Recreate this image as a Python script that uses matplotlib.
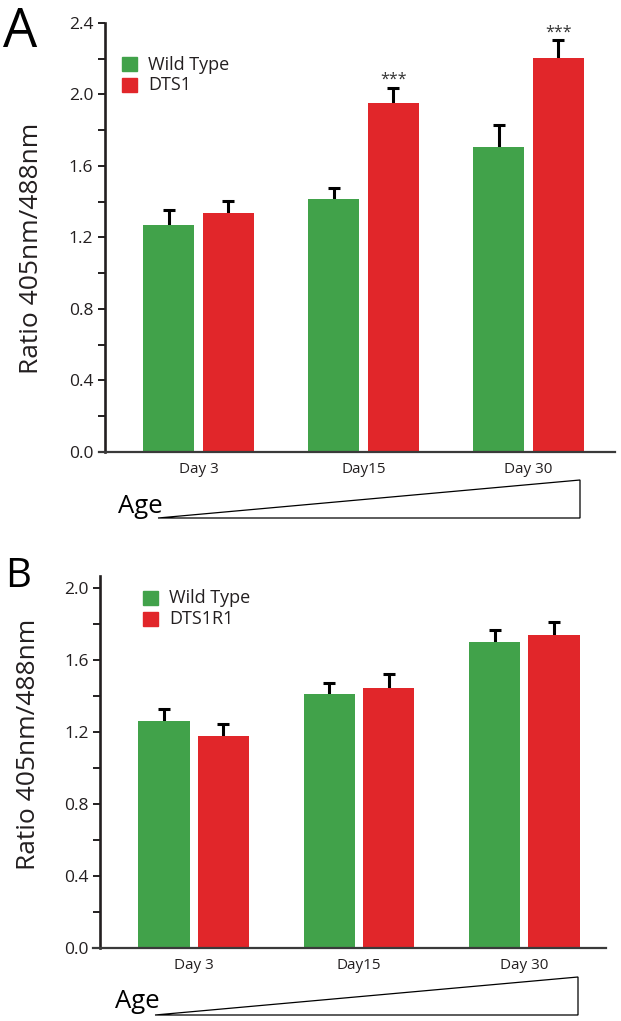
import matplotlib
matplotlib.use("Agg")
import matplotlib.pyplot as plt
import numpy as np
from matplotlib.patches import Polygon, Rectangle
from matplotlib.ticker import MultipleLocator

plt.rcParams["font.family"] = ["Open Sans", "DejaVu Sans"]

days = ["Day 3", "Day15", "Day 30"]

# panel A
wt_a = [1.27, 1.415, 1.705]
wt_a_err = [0.084, 0.062, 0.122]
dts1 = [1.338, 1.955, 2.205]
dts1_err = [0.064, 0.084, 0.098]
stars_a = ["", "***", "***"]

# panel B
wt_b = [1.26, 1.41, 1.70]
wt_b_err = [0.067, 0.061, 0.067]
dts1r1 = [1.18, 1.444, 1.739]
dts1r1_err = [0.067, 0.078, 0.072]

GREEN = "#41a24a"
RED = "#e1262a"
INK = "#231f20"

W, H = 621, 1021
fig = plt.figure(figsize=(W / 100, H / 100), dpi=100)


def fx(x):
    return x / W


def fy(y):
    return 1 - y / H


def add_axes_px(x0, y0, x1, y1):
    return fig.add_axes([fx(x0), fy(y1), (x1 - x0) / W, (y1 - y0) / H])


def draw_panel(ax, wt, wt_err, mut, mut_err, xlim, spine_x, ymax, top_tick, stars=None):
    x = np.arange(len(days))
    width, off = 0.31, 0.18
    ekw = dict(fmt="none", ecolor="black", elinewidth=2.2, capsize=4.3, capthick=2.2, zorder=1)
    ax.errorbar(x - off, wt, yerr=wt_err, **ekw)
    ax.errorbar(x + off, mut, yerr=mut_err, **ekw)
    ax.bar(x - off, wt, width, color=GREEN, zorder=2)
    ax.bar(x + off, mut, width, color=RED, zorder=2)

    if stars:
        for xi, v, e, s in zip(x, mut, mut_err, stars):
            if s:
                ax.annotate(s, (xi + off, v + e), xytext=(0, 0), textcoords="offset points",
                            ha="center", va="bottom", fontsize=11.5, color="#333333")

    ax.set_xlim(*xlim)
    ax.set_ylim(0, ymax)
    ax.set_yticks(np.arange(0, top_tick + 0.01, 0.4))
    ax.set_yticklabels([f"{v:.1f}" for v in np.arange(0, top_tick + 0.01, 0.4)])
    ax.yaxis.set_minor_locator(MultipleLocator(0.2))
    ax.set_xticks(x, days)

    for s in ("top", "right"):
        ax.spines[s].set_visible(False)
    ax.spines["left"].set_position(("data", spine_x))
    ax.spines["left"].set_linewidth(1.9)
    ax.spines["left"].set_color(INK)
    ax.spines["bottom"].set_linewidth(1.6)
    ax.spines["bottom"].set_color("#3a3a3a")

    ax.tick_params(axis="y", which="both", direction="out", length=5, width=1.4,
                   color=INK, labelsize=12.5, labelcolor=INK, pad=3.5)
    ax.tick_params(axis="x", length=0, labelsize=11, labelcolor=INK, pad=7)
    ax.patch.set_alpha(0)


def legend_px(x, y_first, y_second, names):
    for yc, col, name in zip((y_first, y_second), (GREEN, RED), names):
        fig.add_artist(Rectangle((fx(x), fy(yc + 7)), 15 / W, 14 / H,
                                 transform=fig.transFigure, color=col))
        fig.text(fx(x + 26), fy(yc), name, fontsize=13, color=INK, ha="left", va="center")


def age_px(text_right, baseline, x0, x1, y_top, y_bot):
    fig.text(fx(text_right), fy(baseline), "Age", fontsize=18.5, color="black",
             ha="right", va="baseline")
    tri = Polygon([[fx(x0), fy(y_bot)], [fx(x1), fy(y_top)], [fx(x1), fy(y_bot)]],
                  closed=True, fill=False, edgecolor="black", linewidth=0.9,
                  transform=fig.transFigure)
    fig.add_artist(tri)


# ---- panel A
axA = add_axes_px(99, 23, 615, 452)
draw_panel(axA, wt_a, wt_a_err, dts1, dts1_err, xlim=(-0.603, 2.524), spine_x=-0.567,
           ymax=2.4, top_tick=2.4, stars=stars_a)
fig.text(fx(32), fy(248), "Ratio 405nm/488nm", rotation=90, fontsize=19,
         color=INK, ha="center", va="center")
fig.text(fx(3), fy(47), "A", fontsize=39, color="black", ha="left", va="baseline")
legend_px(122, 64.5, 85, ["Wild Type", "DTS1"])
age_px(163, 513, 158, 580, 480, 518)

# ---- panel B
axB = add_axes_px(93, 576, 606, 948)
draw_panel(axB, wt_b, wt_b_err, dts1r1, dts1r1_err, xlim=(-0.609, 2.494), spine_x=-0.564,
           ymax=2.067, top_tick=2.0)
fig.text(fx(29), fy(744), "Ratio 405nm/488nm", rotation=90, fontsize=19,
         color=INK, ha="center", va="center")
fig.text(fx(5), fy(587), "B", fontsize=29, color="black", ha="left", va="baseline")
legend_px(143, 597.5, 619, ["Wild Type", "DTS1R1"])
age_px(160, 1008, 155, 578, 977, 1015)

fig.savefig("out.png", dpi=100)
